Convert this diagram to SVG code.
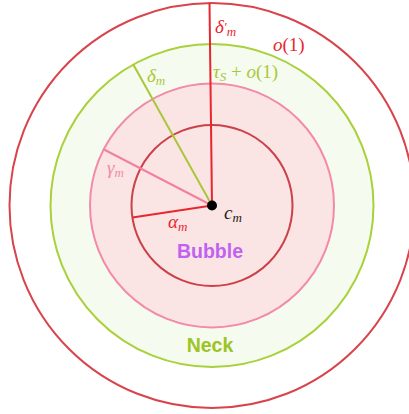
<svg xmlns="http://www.w3.org/2000/svg" width="409" height="414" viewBox="0 0 409 414">
<style>
.math{font-family:"Liberation Serif","DejaVu Serif",serif;font-style:italic;font-size:19px}
.sub{font-size:13px}
.rm{font-style:normal}
.lbl{font-family:"Liberation Sans",Arial,sans-serif;font-weight:bold;font-size:19.5px}
</style>
<rect width="409" height="414" fill="#ffffff"/>
<g id="outer-circle"><circle cx="212" cy="205.5" r="202.5" fill="none" stroke="#d9434b" stroke-width="2"/></g>
<g id="neck-circle"><circle cx="212" cy="205.5" r="161.5" fill="#f5fbee" stroke="#a8d13c" stroke-width="2"/></g>
<g id="bubble-circle"><circle cx="212" cy="205.5" r="122" fill="#fbe4e4" stroke="#f28aa8" stroke-width="2"/></g>
<g id="inner-circle"><circle cx="212" cy="205.5" r="80.5" fill="none" stroke="#cc4048" stroke-width="2"/></g>
<g id="connectors" stroke-width="2" fill="none">
<line x1="212" y1="205.5" x2="209.5" y2="3" stroke="#e8262e"/>
<line x1="212" y1="205.5" x2="133" y2="64" stroke="#a8c83a"/>
<line x1="212" y1="205.5" x2="104" y2="149.5" stroke="#f27fa0"/>
<line x1="212" y1="205.5" x2="132.5" y2="217.5" stroke="#e8262e"/>
</g>
<g id="center"><circle cx="212" cy="205.5" r="5" fill="#000"/>
<text class="math" x="224" y="219" fill="#222">c<tspan class="sub" dy="3">m</tspan></text></g>
<g id="labels">
<text class="math" x="215" y="33" fill="#e8262e">δ<tspan class="sub" dy="-2">′</tspan><tspan class="sub" dy="5">m</tspan></text>
<text class="math" x="273" y="51" fill="#e8262e">o<tspan class="rm">(1)</tspan></text>
<text class="math" x="213" y="78" fill="#a8c83a">τ<tspan class="sub" dy="3">S</tspan><tspan class="rm" dy="-3"> + </tspan>o<tspan class="rm">(1)</tspan></text>
<text class="math" x="147" y="82" fill="#a8c83a">δ<tspan class="sub" dy="3">m</tspan></text>
<text class="math" x="107" y="174" fill="#f28aa8">γ<tspan class="sub" dy="3">m</tspan></text>
<text class="math" x="168" y="228" fill="#e8262e">α<tspan class="sub" dy="3">m</tspan></text>
<text class="lbl" x="210" y="258" text-anchor="middle" fill="#c062f0">Bubble</text>
<text class="lbl" x="210" y="352" text-anchor="middle" fill="#9cc424">Neck</text>
</g>
</svg>
